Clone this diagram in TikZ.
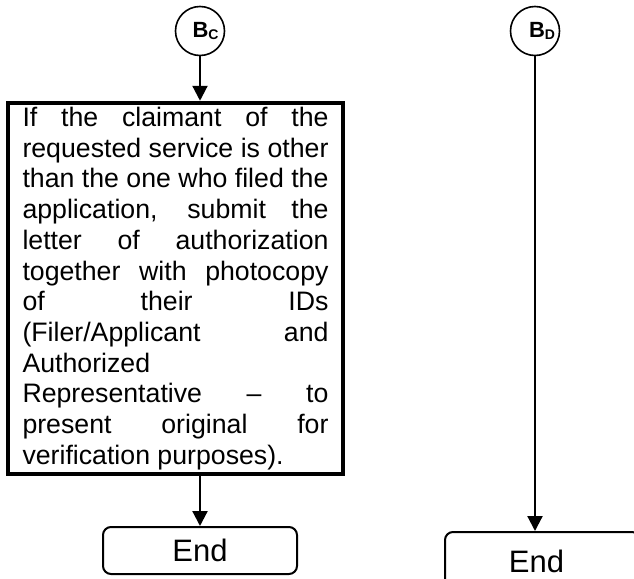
\documentclass[tikz,border=0pt]{standalone}
\usepackage{fontspec}
\setmainfont{Liberation Sans}
\usetikzlibrary{arrows.meta}
\newcommand{\jline}[1]{\makebox[306pt][s]{#1}}
\newcommand{\lline}[1]{\makebox[306pt][l]{#1}}

\begin{document}
\begin{tikzpicture}[x=1pt,y=-1pt,
  conn/.style={draw,circle,line width=1.6pt,minimum size=49pt,inner sep=0pt,font=\bfseries\fontsize{22}{22}\selectfont},
  endbox/.style={draw,rounded corners=8pt,line width=2pt,minimum width=194pt,minimum height=47pt,font=\fontsize{31}{31}\selectfont},
  flow/.style={-{Triangle[width=15pt,length=15pt]},line width=2.2pt},
]
  \useasboundingbox (0,0) rectangle (634,578);
  \clip (0,0) rectangle (634,578);

  % left branch
  \node[conn] (bc) at (200,31) {\hspace*{11pt}B\raisebox{-2pt}{\fontsize{14}{14}\selectfont C}};
  \node[draw,line width=4.5pt,inner xsep=14.5pt,inner ysep=0pt,minimum height=371pt,align=left,font=\fontsize{26.7}{30.7}\selectfont] (claim) at (175.5,288.5) {%
    \jline{If the claimant of the}\\
    \jline{requested service is other}\\
    \jline{than the one who filed the}\\
    \jline{application, submit the}\\
    \jline{letter of authorization}\\
    \jline{together with photocopy}\\
    \jline{of their IDs}\\
    \jline{(Filer/Applicant and}\\
    \lline{Authorized}\\
    \jline{Representative -- to}\\
    \jline{present original for}\\
    \lline{verification purposes).}};
  \node[endbox] (endc) at (200,550.5) {End};

  \draw[flow] (bc) -- (bc |- claim.north);
  \draw[flow] (claim.south -| endc) -- (endc);

  % right branch
  \node[conn] (bd) at (535,31) {\hspace*{14pt}B\raisebox{-2pt}{\fontsize{14}{14}\selectfont D}};
  \node[endbox,minimum width=195pt,minimum height=58pt] (endd) at (542.5,561) {\hspace*{-12pt}End};

  \draw[flow] (bd) -- (bd |- endd.north);
\end{tikzpicture}
\end{document}
